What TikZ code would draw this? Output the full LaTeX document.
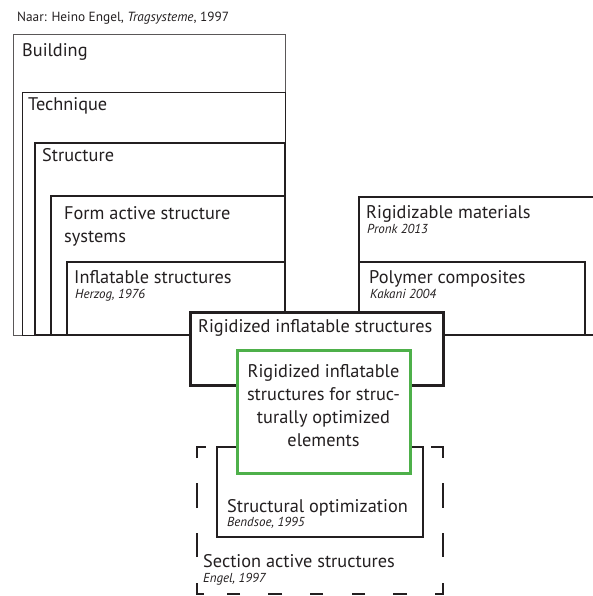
\documentclass[tikz,border=0pt]{standalone}
\usepackage{fontspec}
\setmainfont{PT Sans}
\definecolor{boxgreen}{RGB}{78,176,74}
\definecolor{ink}{RGB}{35,31,32}
\begin{document}
\begin{tikzpicture}[x=1pt,y=-1pt,
  frame/.style={draw=ink, fill=white, inner sep=0pt, outer sep=0pt, anchor=north west},
  lbl/.style={inner sep=0pt, anchor=base west, text=ink, font=\fontsize{18.3}{23}\selectfont},
  cite/.style={inner sep=0pt, anchor=base west, text=ink, font=\fontsize{13}{15}\selectfont\itshape}]
\useasboundingbox (0,0) rectangle (593,596);

% heading
\node[inner sep=0pt, anchor=base west, text=ink, font=\fontsize{13.3}{16}\selectfont] (src) at (17,22)
  {Naar: Heino Engel, \textit{Tragsysteme}, 1997};

% nested hierarchy on the left
\node[frame, line width=0.8pt, draw=ink!75, minimum width=272, minimum height=301] (building) at (13,34) {};
\node[frame, line width=1pt, minimum width=263, minimum height=242] (technique) at (22,93) {};
\node[frame, line width=1.2pt, minimum width=250, minimum height=192] (structure) at (35,143) {};
\node[frame, line width=1.6pt, minimum width=234, minimum height=139] (formactive) at (51,196) {};
\node[frame, line width=2pt, minimum width=218, minimum height=73] (inflatable) at (67,262) {};

\node[lbl] (tbuilding) at (22,57) {Building};
\node[lbl] (ttechnique) at (28,111) {Technique};
\node[lbl] (tstructure) at (42,161) {Structure};
\node[lbl, align=left] (tformactive) at (64,242) {Form active structure\\systems};
\node[lbl] (tinflatable) at (74,283) {Inflatable structures};
\node[cite] (cinflatable) at (75,298) {Herzog, 1976};

% material branch on the right
\node[frame, line width=1.6pt, minimum width=250, minimum height=138] (rigidizable) at (359,197) {};
\node[frame, line width=2pt, minimum width=226, minimum height=73] (polymer) at (359,262) {};
\node[lbl] (trigidizable) at (366,218) {Rigidizable materials};
\node[cite] (crigidizable) at (367,233) {Pronk 2013};
\node[lbl] (tpolymer) at (369,283) {Polymer composites};
\node[cite] (cpolymer) at (370,298) {Kakani 2004};

% section active structures: dashed frame with dashes aligned to the corners
\node[inner sep=0pt, outer sep=0pt, anchor=north west, minimum width=246, minimum height=147] (section) at (197,447) {};
\draw[ink, line width=2.5pt,
  dash pattern=on 0pt off 111pt on 23pt off 25pt on 25pt off 25pt on 24pt off 26pt
    on 19pt off 28pt on 14pt off 28pt on 13pt off 29pt on 13pt off 28pt on 14pt off 28pt on 13pt off 23pt
    on 18pt off 26pt on 24pt off 25pt on 25pt off 25pt on 20pt off 114pt]
  (section.north) -- (section.north east) -- (section.south east)
  -- (section.south west) -- (section.north west) -- cycle;

% structural optimization
\node[frame, line width=1.8pt, minimum width=206, minimum height=90] (optim) at (217,447) {};
\node[lbl] (toptim) at (227,512) {Structural optimization};
\node[cite] (coptim) at (227,526) {Bendsoe, 1995};
\node[lbl] (tsection) at (203,567) {Section active structures};
\node[cite] (csection) at (203,582) {Engel, 1997};

% intersection of both branches
\node[frame, line width=3pt, minimum width=253, minimum height=73] (rigidized) at (190,312) {};
\node[lbl] (trigidized) at (198,332) {Rigidized inflatable structures};

% focus of the work
\node[frame, draw=boxgreen, line width=3pt, minimum width=173, minimum height=123] (focus) at (237,350) {};
\node[inner sep=0pt, text=ink, align=center, font=\fontsize{18.3}{23}\selectfont, anchor=base] (tfocus) at (323.5,446)
  {Rigidized inflatable\\structures for struc-\\turally optimized\\elements};
\end{tikzpicture}
\end{document}
